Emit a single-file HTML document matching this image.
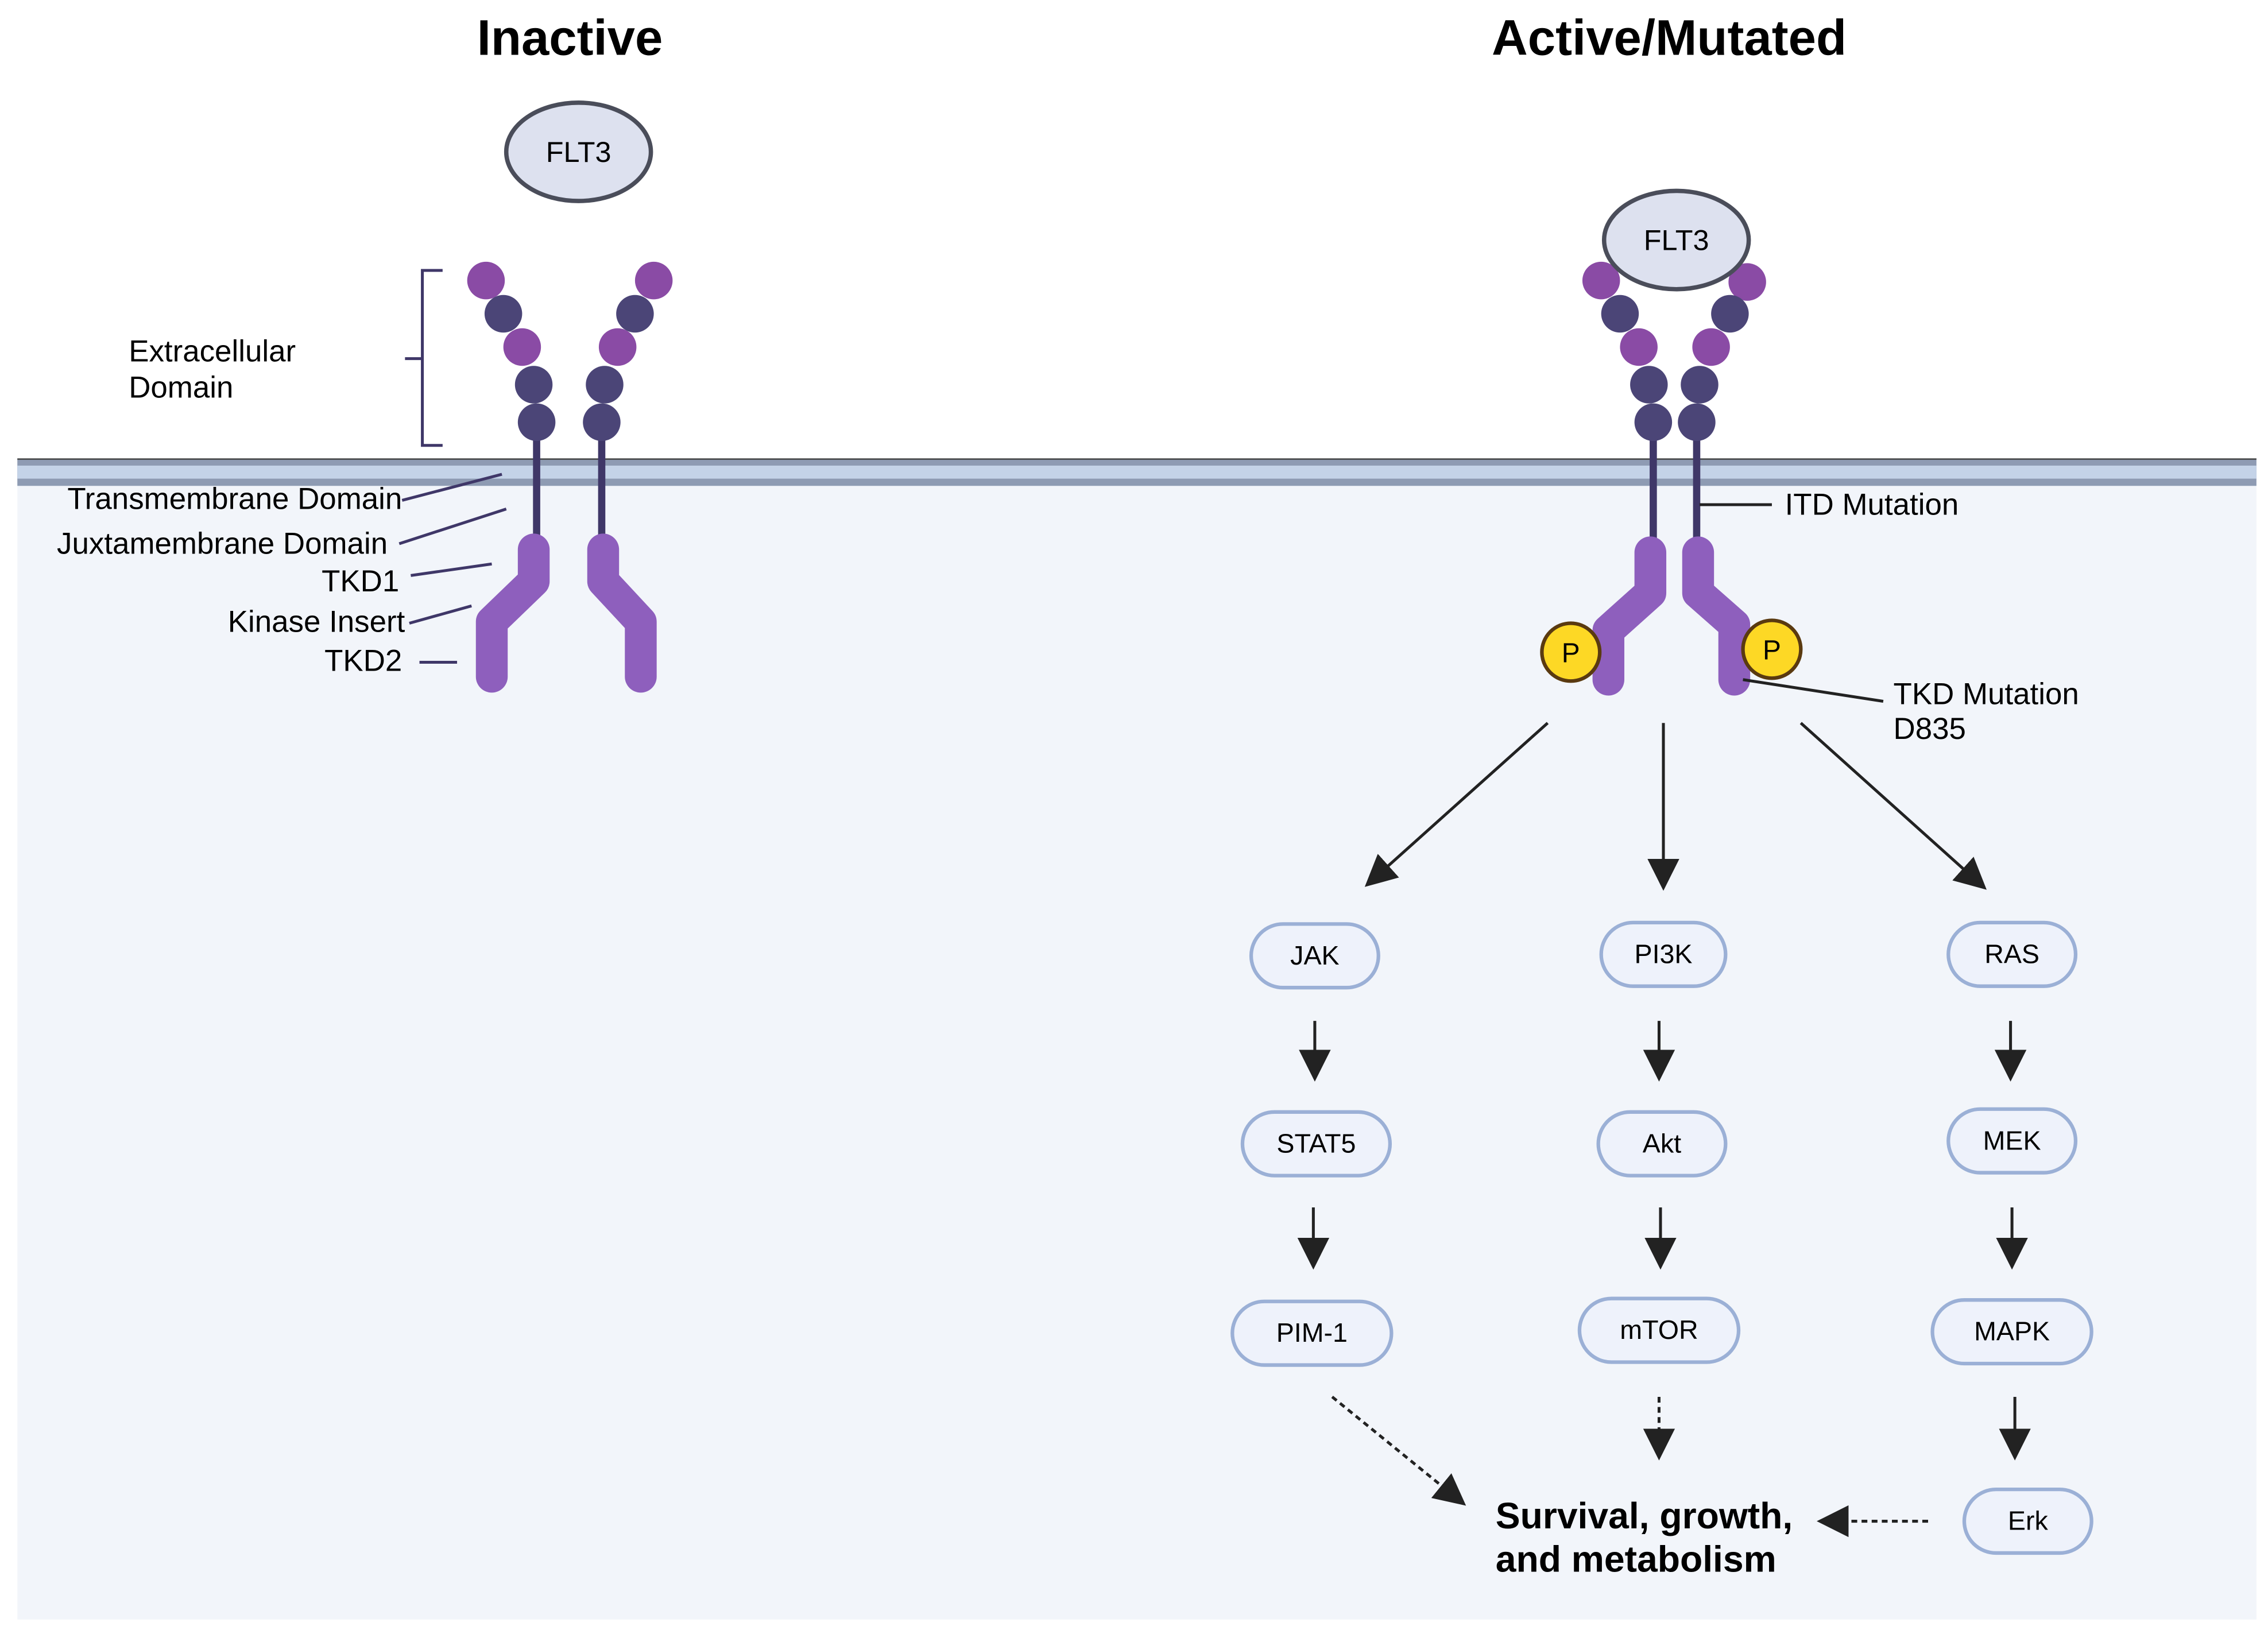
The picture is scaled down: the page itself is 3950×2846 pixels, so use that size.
<!DOCTYPE html>
<html><head><meta charset="utf-8"><style>
html,body{margin:0;padding:0;background:#fff}
svg{display:block}
text{font-family:"Liberation Sans",sans-serif}
</style></head><body>
<svg width="3950" height="2846" viewBox="0 0 1568 1130" preserveAspectRatio="none" xmlns="http://www.w3.org/2000/svg">
<defs>
<marker id="ah2" markerWidth="22" markerHeight="22" refX="20" refY="11" orient="auto" markerUnits="userSpaceOnUse" viewBox="0 0 22 22">
<path d="M0,0 L22,11 L0,22 z" fill="#222"/></marker>
</defs>
<rect width="1568" height="1130" fill="#fff"/>
<rect x="12" y="318" width="1548" height="802" fill="#f2f5fa"/>
<rect x="12" y="317" width="1548" height="19" fill="#8e9bb3"/>
<rect x="12" y="322" width="1548" height="9" fill="#c4d3e8"/>
<line x1="12" y1="317.5" x2="1560" y2="317.5" stroke="#444" stroke-width="1"/>

<text x="394" y="38" font-size="34.5" font-weight="bold" text-anchor="middle">Inactive</text>
<text x="1154" y="38" font-size="34.5" font-weight="bold" text-anchor="middle">Active/Mutated</text>

<!-- inactive -->
<ellipse cx="400" cy="105" rx="50" ry="34" fill="#dde1ef" stroke="#4a4d5a" stroke-width="3"/>
<text x="400" y="112" font-size="20" text-anchor="middle">FLT3</text>
<g fill="#3f3768">
<rect x="368.5" y="292" width="5" height="85"/><rect x="413.5" y="292" width="5" height="85"/>
</g>
<g stroke="#8e5fbd" stroke-width="22" fill="none" stroke-linecap="round" stroke-linejoin="round">
<path d="M369,380 L369,402 L340,430 L340,468"/>
<path d="M417,380 L417,402 L443,430 L443,468"/>
</g>
<g>
<circle cx="336" cy="194" r="13" fill="#8a4ba5"/><circle cx="348" cy="217" r="13" fill="#4b4577"/>
<circle cx="361" cy="240" r="13" fill="#8a4ba5"/><circle cx="369" cy="266" r="13" fill="#4b4577"/>
<circle cx="371" cy="292" r="13" fill="#4b4577"/>
<circle cx="452" cy="194" r="13" fill="#8a4ba5"/><circle cx="439" cy="217" r="13" fill="#4b4577"/>
<circle cx="427" cy="240" r="13" fill="#8a4ba5"/><circle cx="418" cy="266" r="13" fill="#4b4577"/>
<circle cx="416" cy="292" r="13" fill="#4b4577"/>
</g>
<path d="M306,187 L292,187 L292,308 L306,308 M280,248 L292,248" stroke="#3f3768" stroke-width="2" fill="none"/>
<text x="89" y="250" font-size="21">Extracellular</text>
<text x="89" y="275" font-size="21">Domain</text>
<g font-size="21" text-anchor="end">
<text x="278" y="352">Transmembrane Domain</text>
<text x="268" y="383">Juxtamembrane Domain</text>
<text x="276" y="409">TKD1</text>
<text x="280" y="437">Kinase Insert</text>
<text x="278" y="464">TKD2</text>
</g>
<g stroke="#3f3768" stroke-width="2">
<line x1="278" y1="346" x2="347" y2="328"/><line x1="276" y1="376" x2="350" y2="352"/>
<line x1="284" y1="398" x2="340" y2="390"/><line x1="283" y1="431" x2="326" y2="419"/>
<line x1="290" y1="458" x2="316" y2="458"/>
</g>

<!-- active -->
<g fill="#3f3768">
<rect x="1140.5" y="292" width="5" height="85"/><rect x="1170.5" y="292" width="5" height="85"/>
</g>
<g stroke="#8e5fbd" stroke-width="22" fill="none" stroke-linecap="round" stroke-linejoin="round">
<path d="M1141,382 L1141,410 L1112,436 L1112,470"/>
<path d="M1174,382 L1174,410 L1199,432 L1199,470"/>
</g>
<g>
<circle cx="1107" cy="194" r="13" fill="#8a4ba5"/><circle cx="1120" cy="217" r="13" fill="#4b4577"/>
<circle cx="1133" cy="240" r="13" fill="#8a4ba5"/><circle cx="1140" cy="266" r="13" fill="#4b4577"/>
<circle cx="1143" cy="292" r="13" fill="#4b4577"/>
<circle cx="1208" cy="195" r="13" fill="#8a4ba5"/><circle cx="1196" cy="217" r="13" fill="#4b4577"/>
<circle cx="1183" cy="240" r="13" fill="#8a4ba5"/><circle cx="1175" cy="266" r="13" fill="#4b4577"/>
<circle cx="1173" cy="292" r="13" fill="#4b4577"/>
</g>
<ellipse cx="1159" cy="166" rx="50" ry="34" fill="#dde1ef" stroke="#4a4d5a" stroke-width="3"/>
<text x="1159" y="173" font-size="20" text-anchor="middle">FLT3</text>
<circle cx="1086" cy="451" r="20" fill="#fdd825" stroke="#5a3a10" stroke-width="2.5"/>
<text x="1086" y="458" font-size="19" text-anchor="middle">P</text>
<circle cx="1225" cy="449" r="20" fill="#fdd825" stroke="#5a3a10" stroke-width="2.5"/>
<text x="1225" y="456" font-size="19" text-anchor="middle">P</text>
<line x1="1175" y1="349" x2="1225" y2="349" stroke="#222" stroke-width="2"/>
<text x="1234" y="356" font-size="21">ITD Mutation</text>
<line x1="1205" y1="470" x2="1302" y2="485" stroke="#222" stroke-width="2"/>
<text x="1309" y="487" font-size="21">TKD Mutation</text>
<text x="1309" y="511" font-size="21">D835</text>

<g stroke="#222" stroke-width="2" marker-end="url(#ah2)">
<line x1="1070" y1="500" x2="945" y2="612"/>
<line x1="1150" y1="500" x2="1150" y2="614"/>
<line x1="1245" y1="500" x2="1372" y2="614"/>
</g>

<g fill="#eef2fb" stroke="#9bb0d6" stroke-width="2.5">
<rect x="865" y="639" width="88" height="44" rx="22"/>
<rect x="1107" y="638" width="86" height="44" rx="22"/>
<rect x="1347" y="638" width="88" height="44" rx="22"/>
<rect x="859" y="769" width="102" height="44" rx="22"/>
<rect x="1105" y="769" width="88" height="44" rx="22"/>
<rect x="1347" y="767" width="88" height="44" rx="22"/>
<rect x="852" y="900" width="110" height="44" rx="22"/>
<rect x="1092" y="898" width="110" height="44" rx="22"/>
<rect x="1336" y="899" width="110" height="44" rx="22"/>
<rect x="1358" y="1030" width="88" height="44" rx="22"/>
</g>
<g font-size="18.5" text-anchor="middle">
<text x="909" y="667">JAK</text><text x="1150" y="666">PI3K</text><text x="1391" y="666">RAS</text>
<text x="910" y="797">STAT5</text><text x="1149" y="797">Akt</text><text x="1391" y="795">MEK</text>
<text x="907" y="928">PIM-1</text><text x="1147" y="926">mTOR</text><text x="1391" y="927">MAPK</text>
<text x="1402" y="1058">Erk</text>
</g>
<g stroke="#222" stroke-width="2" marker-end="url(#ah2)">
<line x1="909" y1="706" x2="909" y2="746"/><line x1="1147" y1="706" x2="1147" y2="746"/><line x1="1390" y1="706" x2="1390" y2="746"/>
<line x1="908" y1="835" x2="908" y2="876"/><line x1="1148" y1="835" x2="1148" y2="876"/><line x1="1391" y1="835" x2="1391" y2="876"/>
<line x1="1393" y1="966" x2="1393" y2="1008"/>
</g>
<g stroke="#222" stroke-width="2" stroke-dasharray="4,3" marker-end="url(#ah2)">
<line x1="1147" y1="966" x2="1147" y2="1008"/>
<line x1="921" y1="966" x2="1012" y2="1040"/>
<line x1="1333" y1="1052" x2="1258" y2="1052"/>
</g>
<text x="1034" y="1057" font-size="25.5" font-weight="bold">Survival, growth,</text>
<text x="1034" y="1087" font-size="25.5" font-weight="bold">and metabolism</text>
</svg>
</body></html>
